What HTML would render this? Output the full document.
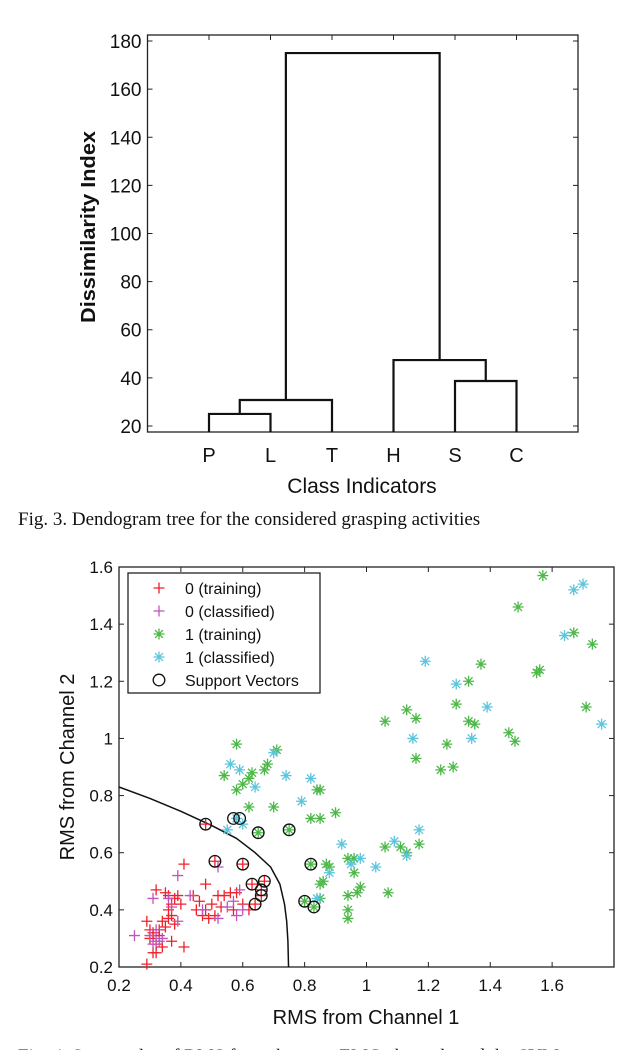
<!DOCTYPE html>
<html><head><meta charset="utf-8"><style>
html,body{margin:0;padding:0;background:#fff;width:638px;height:1050px;overflow:hidden}
svg{display:block}
</style></head><body>
<svg id="fig" width="638" height="1050" viewBox="0 0 638 1050" xmlns="http://www.w3.org/2000/svg">
<text x="18" y="-5" font-family="Liberation Serif, serif" font-size="19" fill="#222">using average linkage</text>
<g id="dendro"></g>
<text x="18" y="525" font-family="Liberation Serif, serif" font-size="19" fill="#111">Fig. 3. Dendogram tree for the considered grasping activities</text>
<g id="scatter"></g>
<text x="18" y="1062" font-family="Liberation Serif, serif" font-size="19" fill="#111">Fig. 4. Scatter plot of RMS from the two sEMG channels and the SVM</text>
</svg>
<script>
// ---------- Dendrogram data ----------
const dCategories = ['P','L','T','H','S','C'];
const dYTicks = [20,40,60,80,100,120,140,160,180];
const dLinkLeft = [1, 1.5, 5, 4, 2.25];
const dLinkRight = [2, 3, 6, 5.5, 4.75];
const dLinkHeight = [25, 30.8, 38.7, 47.4, 175];
const dLinkLeftBase = [17.5, 25, 17.5, 17.5, 30.8];
const dLinkRightBase = [17.5, 17.5, 17.5, 38.7, 47.4];

// ---------- Scatter data ----------
const xTicks = [0.2,0.4,0.6,0.8,1,1.2,1.4,1.6];
const yTicks = [0.2,0.4,0.6,0.8,1,1.2,1.4,1.6];
const redX = [0.41,0.60,0.51,0.35,0.36,0.32,0.38,0.37,0.36,0.37,0.36,0.34,0.33,0.31,0.30,0.29,0.30,0.32,0.34,0.37,0.41,0.31,0.32,0.29,0.31,0.33,0.48,0.45,0.47,0.49,0.51,0.50,0.52,0.54,0.56,0.58,0.60,0.62,0.57,0.53,0.48,0.46,0.44,0.63,0.67,0.66,0.66,0.64,0.48,0.39,0.38,0.35,0.40];
const redY = [0.56,0.56,0.57,0.46,0.45,0.47,0.44,0.42,0.40,0.38,0.37,0.36,0.33,0.31,0.33,0.36,0.30,0.28,0.27,0.29,0.27,0.25,0.25,0.21,0.32,0.31,0.49,0.40,0.38,0.37,0.38,0.42,0.45,0.45,0.46,0.46,0.42,0.40,0.40,0.41,0.40,0.43,0.45,0.49,0.50,0.47,0.45,0.42,0.70,0.45,0.35,0.34,0.42];
const magX = [0.39,0.52,0.25,0.30,0.32,0.31,0.33,0.31,0.36,0.37,0.39,0.43,0.47,0.52,0.55,0.57,0.59,0.58,0.60,0.34,0.32];
const magY = [0.52,0.55,0.31,0.31,0.33,0.28,0.29,0.44,0.44,0.41,0.36,0.45,0.40,0.37,0.41,0.43,0.47,0.38,0.40,0.30,0.29];
const grnX = [1.57,1.49,1.67,1.73,1.55,1.56,1.37,1.33,1.29,1.13,1.16,1.06,1.33,1.35,1.71,1.46,1.48,1.26,1.16,1.24,1.28,0.58,0.71,0.54,0.68,0.67,0.63,0.58,0.60,0.62,0.62,0.70,0.84,0.85,0.82,0.85,0.90,0.65,0.75,0.82,0.80,0.83,1.06,1.11,1.13,1.17,0.94,0.96,0.96,0.87,0.88,0.86,0.85,0.85,0.94,0.97,0.98,0.94,0.94,1.07];
const grnY = [1.57,1.46,1.37,1.33,1.23,1.24,1.26,1.20,1.12,1.10,1.07,1.06,1.06,1.05,1.11,1.02,0.99,0.98,0.93,0.89,0.90,0.98,0.96,0.87,0.91,0.89,0.88,0.82,0.84,0.86,0.76,0.76,0.82,0.82,0.72,0.72,0.74,0.67,0.68,0.56,0.43,0.41,0.62,0.62,0.60,0.63,0.58,0.58,0.53,0.56,0.55,0.50,0.49,0.44,0.45,0.46,0.48,0.40,0.37,0.46];
const cyaX = [1.67,1.70,1.64,1.19,1.29,1.39,1.76,1.15,1.34,0.70,0.56,0.59,0.64,0.74,0.82,0.79,0.55,0.60,0.58,0.92,1.09,1.13,1.17,0.98,0.95,1.03,0.88,0.84];
const cyaY = [1.52,1.54,1.36,1.27,1.19,1.11,1.05,1.00,1.00,0.95,0.91,0.89,0.83,0.87,0.86,0.78,0.68,0.70,0.72,0.63,0.64,0.59,0.68,0.58,0.56,0.55,0.53,0.44];
const svX = [0.48,0.51,0.60,0.57,0.59,0.65,0.75,0.82,0.63,0.67,0.66,0.66,0.64,0.80,0.83];
const svY = [0.70,0.57,0.56,0.72,0.72,0.67,0.68,0.56,0.49,0.50,0.47,0.45,0.42,0.43,0.41];
const bndX = [0.2,0.3,0.4,0.5,0.58,0.64,0.69,0.72,0.735,0.742,0.746,0.748];
const bndY = [0.83,0.79,0.745,0.695,0.65,0.60,0.55,0.49,0.42,0.36,0.29,0.2];
const legendLabels = ['0 (training)','0 (classified)','1 (training)','1 (classified)','Support Vectors'];

const NS='http://www.w3.org/2000/svg';
function mk(tag, attrs, parent){const e=document.createElementNS(NS,tag);for(const k in attrs)e.setAttribute(k,attrs[k]);parent.appendChild(e);return e;}

// ---------- Dendrogram ----------
(function(){
const g=document.getElementById('dendro');
const L=147.5,R=578,T=35,B=432;
const dx=v=>L+(v/7)*(R-L);
const dy=v=>B-(v-17.5)/(182.5-17.5)*(B-T);
const box=mk('rect',{x:L,y:T,width:R-L,height:B-T,fill:'none',stroke:'#222','stroke-width':1.3},g);


dYTicks.forEach(t=>{
  const y=dy(t);
  mk('line',{x1:L,x2:L+5,y1:y,y2:y,stroke:'#222','stroke-width':1},g);
  mk('line',{x1:R,x2:R-5,y1:y,y2:y,stroke:'#222','stroke-width':1},g);
  const tx=mk('text',{x:L-6,y:y+7,'text-anchor':'end','font-family':'Liberation Sans, sans-serif','font-size':19,fill:'#111'},g);
  tx.textContent=t;
  
  
});
dCategories.forEach((c,i)=>{
  const x=dx(i+1);
  mk('line',{x1:x,x2:x,y1:T,y2:T+5,stroke:'#222','stroke-width':1},g);
  const tx=mk('text',{x:x,y:462,'text-anchor':'middle','font-family':'Liberation Sans, sans-serif','font-size':20,fill:'#111'},g);
  tx.textContent=c;
  
  
});
dLinkHeight.forEach((h,i)=>{
  const x1=dx(dLinkLeft[i]),x2=dx(dLinkRight[i]);
  const p=mk('path',{d:`M${x1},${dy(dLinkLeftBase[i])}V${dy(h)}H${x2}V${dy(dLinkRightBase[i])}`,fill:'none',stroke:'#111','stroke-width':2.2},g);
  
  
});
const xl=mk('text',{x:362,y:493,'text-anchor':'middle','font-family':'Liberation Sans, sans-serif','font-size':21,fill:'#111'},g);
xl.textContent='Class Indicators';


const yl=mk('text',{x:0,y:0,transform:'translate(95,227) rotate(-90)','text-anchor':'middle','font-family':'Liberation Sans, sans-serif','font-size':20,'font-weight':'bold',fill:'#111',textLength:192,lengthAdjust:'spacingAndGlyphs'},g);
yl.textContent='Dissimilarity Index';


})();

// ---------- Scatter ----------
(function(){
const g=document.getElementById('scatter');
const L=119,R=614,T=567,B=967;
const sx=v=>L+(v-0.2)/1.6*(R-L);
const sy=v=>B-(v-0.2)/1.4*(B-T);
const box=mk('rect',{x:L,y:T,width:R-L,height:B-T,fill:'none',stroke:'#222','stroke-width':1.3},g);


xTicks.forEach(t=>{
  const x=sx(t);
  mk('line',{x1:x,x2:x,y1:B,y2:B-5,stroke:'#222','stroke-width':1},g);
  mk('line',{x1:x,x2:x,y1:T,y2:T+5,stroke:'#222','stroke-width':1},g);
  const tx=mk('text',{x:x,y:B+24,'text-anchor':'middle','font-family':'Liberation Sans, sans-serif','font-size':17,fill:'#111'},g);
  tx.textContent=t;
  
  
});
yTicks.forEach(t=>{
  const y=sy(t);
  mk('line',{x1:L,x2:L+5,y1:y,y2:y,stroke:'#222','stroke-width':1},g);
  mk('line',{x1:R,x2:R-5,y1:y,y2:y,stroke:'#222','stroke-width':1},g);
  const tx=mk('text',{x:L-6,y:y+6,'text-anchor':'end','font-family':'Liberation Sans, sans-serif','font-size':17,fill:'#111'},g);
  tx.textContent=t;
  
  
});
let d='';bndX.forEach((v,i)=>{d+=(i?'L':'M')+sx(v)+','+sy(bndY[i]);});
const bp=mk('path',{d:d,fill:'none',stroke:'#111','stroke-width':1.5,'stroke-linejoin':'round'},g);


const s=5.5;
function plus(x,y,c,par){return mk('path',{d:`M${x-s},${y}H${x+s}M${x},${y-s}V${y+s}`,stroke:c,'stroke-width':1.3,fill:'none'},par);}
function star(x,y,c,par){const a=s*0.72;return mk('path',{d:`M${x-s},${y}H${x+s}M${x},${y-s}V${y+s}M${x-a},${y-a}L${x+a},${y+a}M${x-a},${y+a}L${x+a},${y-a}`,stroke:c,'stroke-width':1.3,fill:'none'},par);}
const cRed='#f0202a',cMag='#c054bc',cGrn='#4cb848',cCya='#5cc4dc';
redX.forEach((v,i)=>{const p=plus(sx(v),sy(redY[i]),cRed,g);
  
  });
magX.forEach((v,i)=>{const p=plus(sx(v),sy(magY[i]),cMag,g);
  
  });
grnX.forEach((v,i)=>{const p=star(sx(v),sy(grnY[i]),cGrn,g);
  
  });
cyaX.forEach((v,i)=>{const p=star(sx(v),sy(cyaY[i]),cCya,g);
  
  });
svX.forEach((v,i)=>{const c=mk('circle',{cx:sx(v),cy:sy(svY[i]),r:5.8,fill:'none',stroke:'#111','stroke-width':1.3},g);
  
  });
const lg=mk('g',{},g);


mk('rect',{x:128,y:573,width:192,height:120,fill:'#fff',stroke:'#222','stroke-width':1.3},lg);
const lc=[cRed,cMag,cGrn,cCya,'#111'];
legendLabels.forEach((lab,i)=>{
  const y=588+i*23;
  let m;
  if(i<2)m=plus(159,y,lc[i],lg);else if(i<4)m=star(159,y,lc[i],lg);else m=mk('circle',{cx:159,cy:y,r:5.8,fill:'none',stroke:'#111','stroke-width':1.3},lg);
  
  
  const t=mk('text',{x:185,y:y+6,'font-family':'Liberation Sans, sans-serif','font-size':16,fill:'#111'},lg);
  t.textContent=lab;
  
  
});
const xl=mk('text',{x:366,y:1024,'text-anchor':'middle','font-family':'Liberation Sans, sans-serif','font-size':20,fill:'#111'},g);
xl.textContent='RMS from Channel 1';


const yl=mk('text',{x:0,y:0,transform:'translate(74,767) rotate(-90)','text-anchor':'middle','font-family':'Liberation Sans, sans-serif','font-size':20,fill:'#111'},g);
yl.textContent='RMS from Channel 2';


})();
</script>
</body></html>
